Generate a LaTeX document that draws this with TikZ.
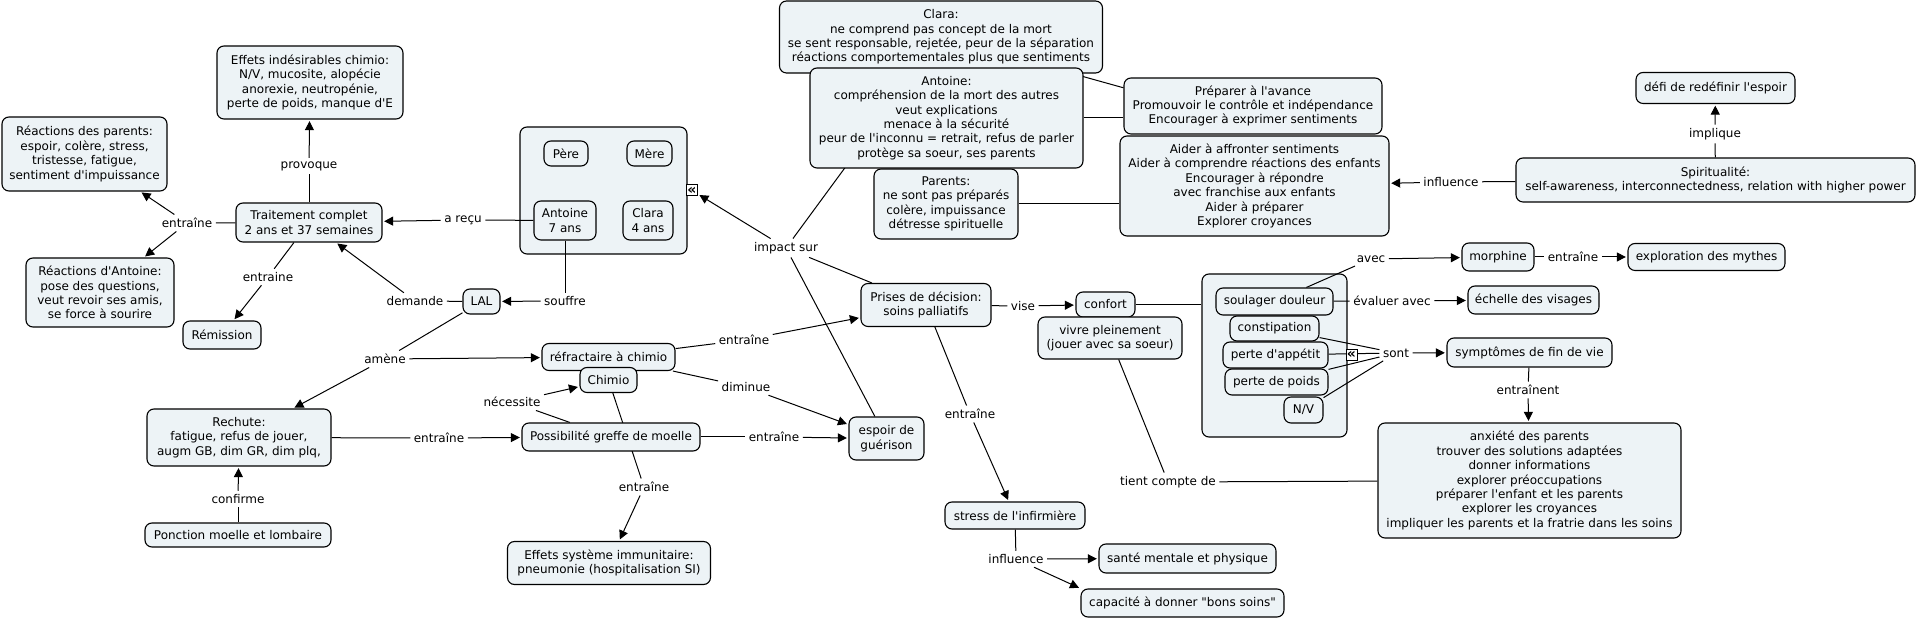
\documentclass[tikz,border=0pt]{standalone}
\usepackage{fontspec}
\setmainfont{DejaVu Sans}[Ligatures=TeXOff]
\usetikzlibrary{arrows.meta}
\pgfdeclarelayer{bg}
\pgfdeclarelayer{mid}
\pgfsetlayers{bg,mid,main}
\definecolor{boxfill}{RGB}{237,243,246}
\tikzset{
  bx/.style={draw=black, line width=0.55pt, fill=boxfill, rounded corners=3.5pt,
    inner sep=0pt, align=center, font=\fontsize{6}{7.2}\selectfont},
  lbl/.style={inner sep=1.6pt, align=center, font=\fontsize{6}{7.2}\selectfont},
  ln/.style={line width=0.5pt, draw=black},
  arr/.style={line width=0.5pt, draw=black, -{Triangle[length=4.5pt,width=4.5pt]}, shorten >=0.8pt},
  icon/.style={draw=black, line width=0.5pt, fill=white, inner sep=0pt,
    minimum width=5.5pt, minimum height=5.5pt, font=\fontsize{7}{7}\bfseries\selectfont}
}
\begin{document}
\begin{tikzpicture}[x=0.5pt,y=-0.5pt]
\useasboundingbox (0,0) rectangle (1917,619);
% containers
\begin{pgfonlayer}{bg}
\node[bx, minimum width=83.5pt, minimum height=63.5pt] (fam) at (603.5,190.5) {};
\node[bx, minimum width=72.5pt, minimum height=81.5pt] (cont) at (1274.5,355.5) {};
\end{pgfonlayer}
% concepts
\node[bx, minimum width=93pt, minimum height=36.5pt] (effets) at (310,82.5) {Effets indésirables chimio:\\N/V, mucosite, alopécie\\anorexie, neutropénie,\\perte de poids, manque d'E};
\node[bx, minimum width=82.5pt, minimum height=37pt] (reacpar) at (84.5,154) {Réactions des parents:\\espoir, colère, stress,\\tristesse, fatigue,\\sentiment d'impuissance};
\node[bx, minimum width=73pt, minimum height=19.5pt] (trait) at (309,222.5) {Traitement complet\\2 ans et 37 semaines};
\node[bx, minimum width=74pt, minimum height=34.5pt] (reacant) at (100,292.5) {Réactions d'Antoine:\\pose des questions,\\veut revoir ses amis,\\ se force à sourire};
\node[bx, minimum width=39pt, minimum height=14pt] (remis) at (222,335) {Rémission};
\node[bx, minimum width=92pt, minimum height=28.5pt] (rech) at (239,437.5) {Rechute:\\fatigue, refus de jouer,\\augm GB, dim GR, dim plq,};
\node[bx, minimum width=93pt, minimum height=12pt] (ponc) at (238,535) {Ponction moelle et lombaire};
\node[bx, minimum width=22pt, minimum height=12.5pt] (pere) at (566,153.5) {Père};
\node[bx, minimum width=22.5pt, minimum height=12.5pt] (mere) at (649.5,153.5) {Mère};
\node[bx, minimum width=31pt, minimum height=19.5pt] (antn) at (565,220.5) {Antoine\\7 ans};
\node[bx, minimum width=25pt, minimum height=19.5pt] (clan) at (648,220.5) {Clara\\4 ans};
\node[bx, minimum width=18.5pt, minimum height=12.5pt] (lal) at (481.5,301.5) {LAL};
\node[bx, minimum width=66.5pt, minimum height=13.5pt] (refr) at (608.5,357) {réfractaire à chimio};
\node[bx, minimum width=28.5pt, minimum height=12.5pt] (chimio) at (608.5,380) {Chimio};
\node[bx, minimum width=89pt, minimum height=14pt] (poss) at (611,437) {Possibilité greffe de moelle};
\node[bx, minimum width=101.5pt, minimum height=21.5pt] (immu) at (609,563) {Effets système immunitaire:\\pneumonie (hospitalisation SI)};
\node[bx, minimum width=37.5pt, minimum height=21.5pt] (espoir) at (886.5,438.5) {espoir de\\guérison};
\node[bx, minimum width=65pt, minimum height=21.5pt] (prises) at (926,305) {Prises de décision:\\soins palliatifs};
\node[bx, minimum width=161.5pt, minimum height=36pt] (clara) at (941,37) {Clara:\\ne comprend pas concept de la mort\\se sent responsable, rejetée, peur de la séparation\\réactions comportementales plus que sentiments};
\node[bx, minimum width=136.5pt, minimum height=50pt] (ant) at (946.5,118) {Antoine:\\compréhension de la mort des autres\\veut explications\\menace à la sécurité\\peur de l'inconnu = retrait, refus de parler\\protège sa soeur, ses parents};
\node[bx, minimum width=72pt, minimum height=35pt] (parents) at (946,204) {Parents:\\ne sont pas préparés\\colère, impuissance\\détresse spirituelle};
\node[bx, minimum width=129pt, minimum height=28pt] (prep) at (1253,106) {Préparer à l'avance\\Promouvoir le contrôle et indépendance\\Encourager à exprimer sentiments};
\node[bx, minimum width=134.5pt, minimum height=50pt] (aider) at (1254.5,186) {Aider à affronter sentiments\\Aider à comprendre réactions des enfants\\Encourager à répondre\\ avec franchise aux enfants\\Aider à préparer\\Explorer croyances};
\node[bx, minimum width=199.5pt, minimum height=22pt] (spir) at (1715.5,180) {Spiritualité:\\self-awareness, interconnectedness, relation with higher power};
\node[bx, minimum width=79.5pt, minimum height=15.5pt] (defi) at (1715.5,88) {défi de redéfinir l'espoir};
\node[bx, minimum width=29.5pt, minimum height=12.5pt] (confort) at (1105.5,304.5) {confort};
\node[bx, minimum width=72pt, minimum height=21pt] (vivre) at (1110,338) {vivre pleinement\\(jouer avec sa soeur)};
\node[bx, minimum width=58.5pt, minimum height=13.5pt] (soul) at (1274.5,301.5) {soulager douleur};
\node[bx, minimum width=44.5pt, minimum height=12.5pt] (const) at (1274.5,328.5) {constipation};
\node[bx, minimum width=52.5pt, minimum height=13pt] (appet) at (1275.5,355) {perte d'appétit};
\node[bx, minimum width=51.5pt, minimum height=13pt] (poids) at (1276.5,382) {perte de poids};
\node[bx, minimum width=19.5pt, minimum height=13pt] (nv) at (1303.5,410) {N/V};
\node[bx, minimum width=36pt, minimum height=14pt] (morph) at (1498,257) {morphine};
\node[bx, minimum width=78.5pt, minimum height=13.5pt] (expl) at (1706.5,257) {exploration des mythes};
\node[bx, minimum width=65.5pt, minimum height=14pt] (echelle) at (1533.5,300) {échelle des visages};
\node[bx, minimum width=82.5pt, minimum height=14.5pt] (symp) at (1529.5,352.5) {symptômes de fin de vie};
\node[bx, minimum width=151.5pt, minimum height=57.5pt] (anx) at (1529.5,480.5) {anxiété des parents\\trouver des solutions adaptées\\donner informations\\explorer préoccupations\\préparer l'enfant et les parents\\explorer les croyances\\impliquer les parents et la fratrie dans les soins};
\node[bx, minimum width=70pt, minimum height=13.5pt] (stress) at (1015,515.5) {stress de l'infirmière};
\node[bx, minimum width=88.5pt, minimum height=14.5pt] (sante) at (1187.5,558.5) {santé mentale et physique};
\node[bx, minimum width=101.5pt, minimum height=14pt] (capa) at (1182.5,603) {capacité à donner "bons soins"};
% collapse icons
\node[icon] (famicon) at (692,190.5) {«};
\node[icon] (sympicon) at (1351.5,355) {«};
% linking phrases
\node[lbl] (l_prov) at (309,166) {provoque};
\node[lbl] (l_ent1) at (187,223) {entraîne};
\node[lbl] (l_ent2) at (268,277) {entraine};
\node[lbl] (l_dem) at (415,301) {demande};
\node[lbl] (l_recu) at (463,220) {a reçu};
\node[lbl] (l_souf) at (565,301) {souffre};
\node[lbl] (l_amene) at (385,359) {amène};
\node[lbl] (l_conf) at (238,499) {confirme};
\node[lbl] (l_ent3) at (439,438) {entraîne};
\node[lbl] (l_nec) at (512,402) {nécessite};
\node[lbl] (l_ent4) at (644,487) {entraîne};
\node[lbl] (l_ent5) at (774,437) {entraîne};
\node[lbl] (l_ent6) at (744,340) {entraîne};
\node[lbl] (l_dim) at (746,387) {diminue};
\node[lbl] (l_imp) at (786,248) {impact sur};
\node[lbl] (l_vise) at (1023,306) {vise};
\node[lbl] (l_ent7) at (970,414) {entraîne};
\node[lbl] (l_tient) at (1168,482) {tient compte de};
\node[lbl] (l_infl) at (1016,559) {influence};
\node[lbl] (l_avec) at (1371,259) {avec};
\node[lbl] (l_ent8) at (1573,257) {entraîne};
\node[lbl] (l_eval) at (1392,301) {évaluer avec};
\node[lbl] (l_sont) at (1396,353) {sont};
\node[lbl] (l_entn) at (1528,390) {entraînent};
\node[lbl] (l_infl2) at (1451,182) {influence};
\node[lbl] (l_impl) at (1715,134) {implique};
% connectors
\begin{pgfonlayer}{mid}
\draw[ln] (trait) -- (l_prov); \draw[arr] (l_prov) -- (effets);
\draw[ln] (trait) -- (l_ent1); \draw[arr] (l_ent1) -- (reacpar); \draw[arr] (l_ent1) -- (reacant);
\draw[ln] (trait) -- (l_ent2); \draw[arr] (l_ent2) -- (remis);
\draw[ln] (antn) -- (l_recu); \draw[arr] (l_recu) -- (trait);
\draw[ln] (antn) -- (l_souf); \draw[arr] (l_souf) -- (lal);
\draw[ln] (lal) -- (l_dem); \draw[arr] (l_dem) -- (trait);
\draw[ln] (lal) -- (l_amene); \draw[arr] (l_amene) -- (rech); \draw[arr] (l_amene) -- (refr);
\draw[ln] (ponc) -- (l_conf); \draw[arr] (l_conf) -- (rech);
\draw[ln] (rech) -- (l_ent3); \draw[arr] (l_ent3) -- (poss);
\draw[ln] (poss) -- (l_nec); \draw[arr] (l_nec) -- (chimio);
\draw[ln] (chimio) -- (l_ent4); \draw[arr] (l_ent4) -- (immu);
\draw[ln] (poss) -- (l_ent5); \draw[arr] (l_ent5) -- (espoir);
\draw[ln] (refr) -- (l_ent6); \draw[arr] (l_ent6) -- (prises);
\draw[ln] (refr) -- (l_dim); \draw[arr] (l_dim) -- (espoir);
\draw[ln] (clara) -- (l_imp); \draw[ln] (prises) -- (l_imp); \draw[ln] (espoir) -- (l_imp);
\draw[arr] (l_imp) -- (famicon);
\draw[ln] (clara) -- (prep.172);
\draw[ln] (ant.east) -- (ant.east -| prep.west);
\draw[ln] (parents.east) -- (parents.east -| aider.west);
\draw[ln] (spir) -- (l_infl2); \draw[arr] (l_infl2) -- (aider);
\draw[ln] (spir) -- (l_impl); \draw[arr] (l_impl) -- (defi);
\draw[ln] (prises) -- (l_vise); \draw[arr] (l_vise) -- (confort);
\draw[ln] (confort.east) -- (confort.east -| cont.west);
\draw[ln] (prises) -- (l_ent7); \draw[arr] (l_ent7) -- (stress);
\draw[ln] (stress) -- (l_infl); \draw[arr] (l_infl) -- (sante); \draw[arr] (l_infl) -- (capa.north west);
\draw[ln] (vivre) -- (l_tient); \draw[ln] (l_tient) -- (anx);
\draw[ln] (soul) -- (l_avec); \draw[arr] (l_avec) -- (morph);
\draw[ln] (morph) -- (l_ent8); \draw[arr] (l_ent8) -- (expl);
\draw[ln] (soul) -- (l_eval); \draw[arr] (l_eval) -- (echelle);
\draw[ln] (const) -- (l_sont); \draw[ln] (appet) -- (l_sont);
\draw[ln] (poids) -- (l_sont); \draw[ln] (nv) -- (l_sont);
\draw[arr] (l_sont) -- (symp);
\draw[ln] (symp) -- (l_entn); \draw[arr] (l_entn) -- (anx);
\end{pgfonlayer}
\end{tikzpicture}
\end{document}
